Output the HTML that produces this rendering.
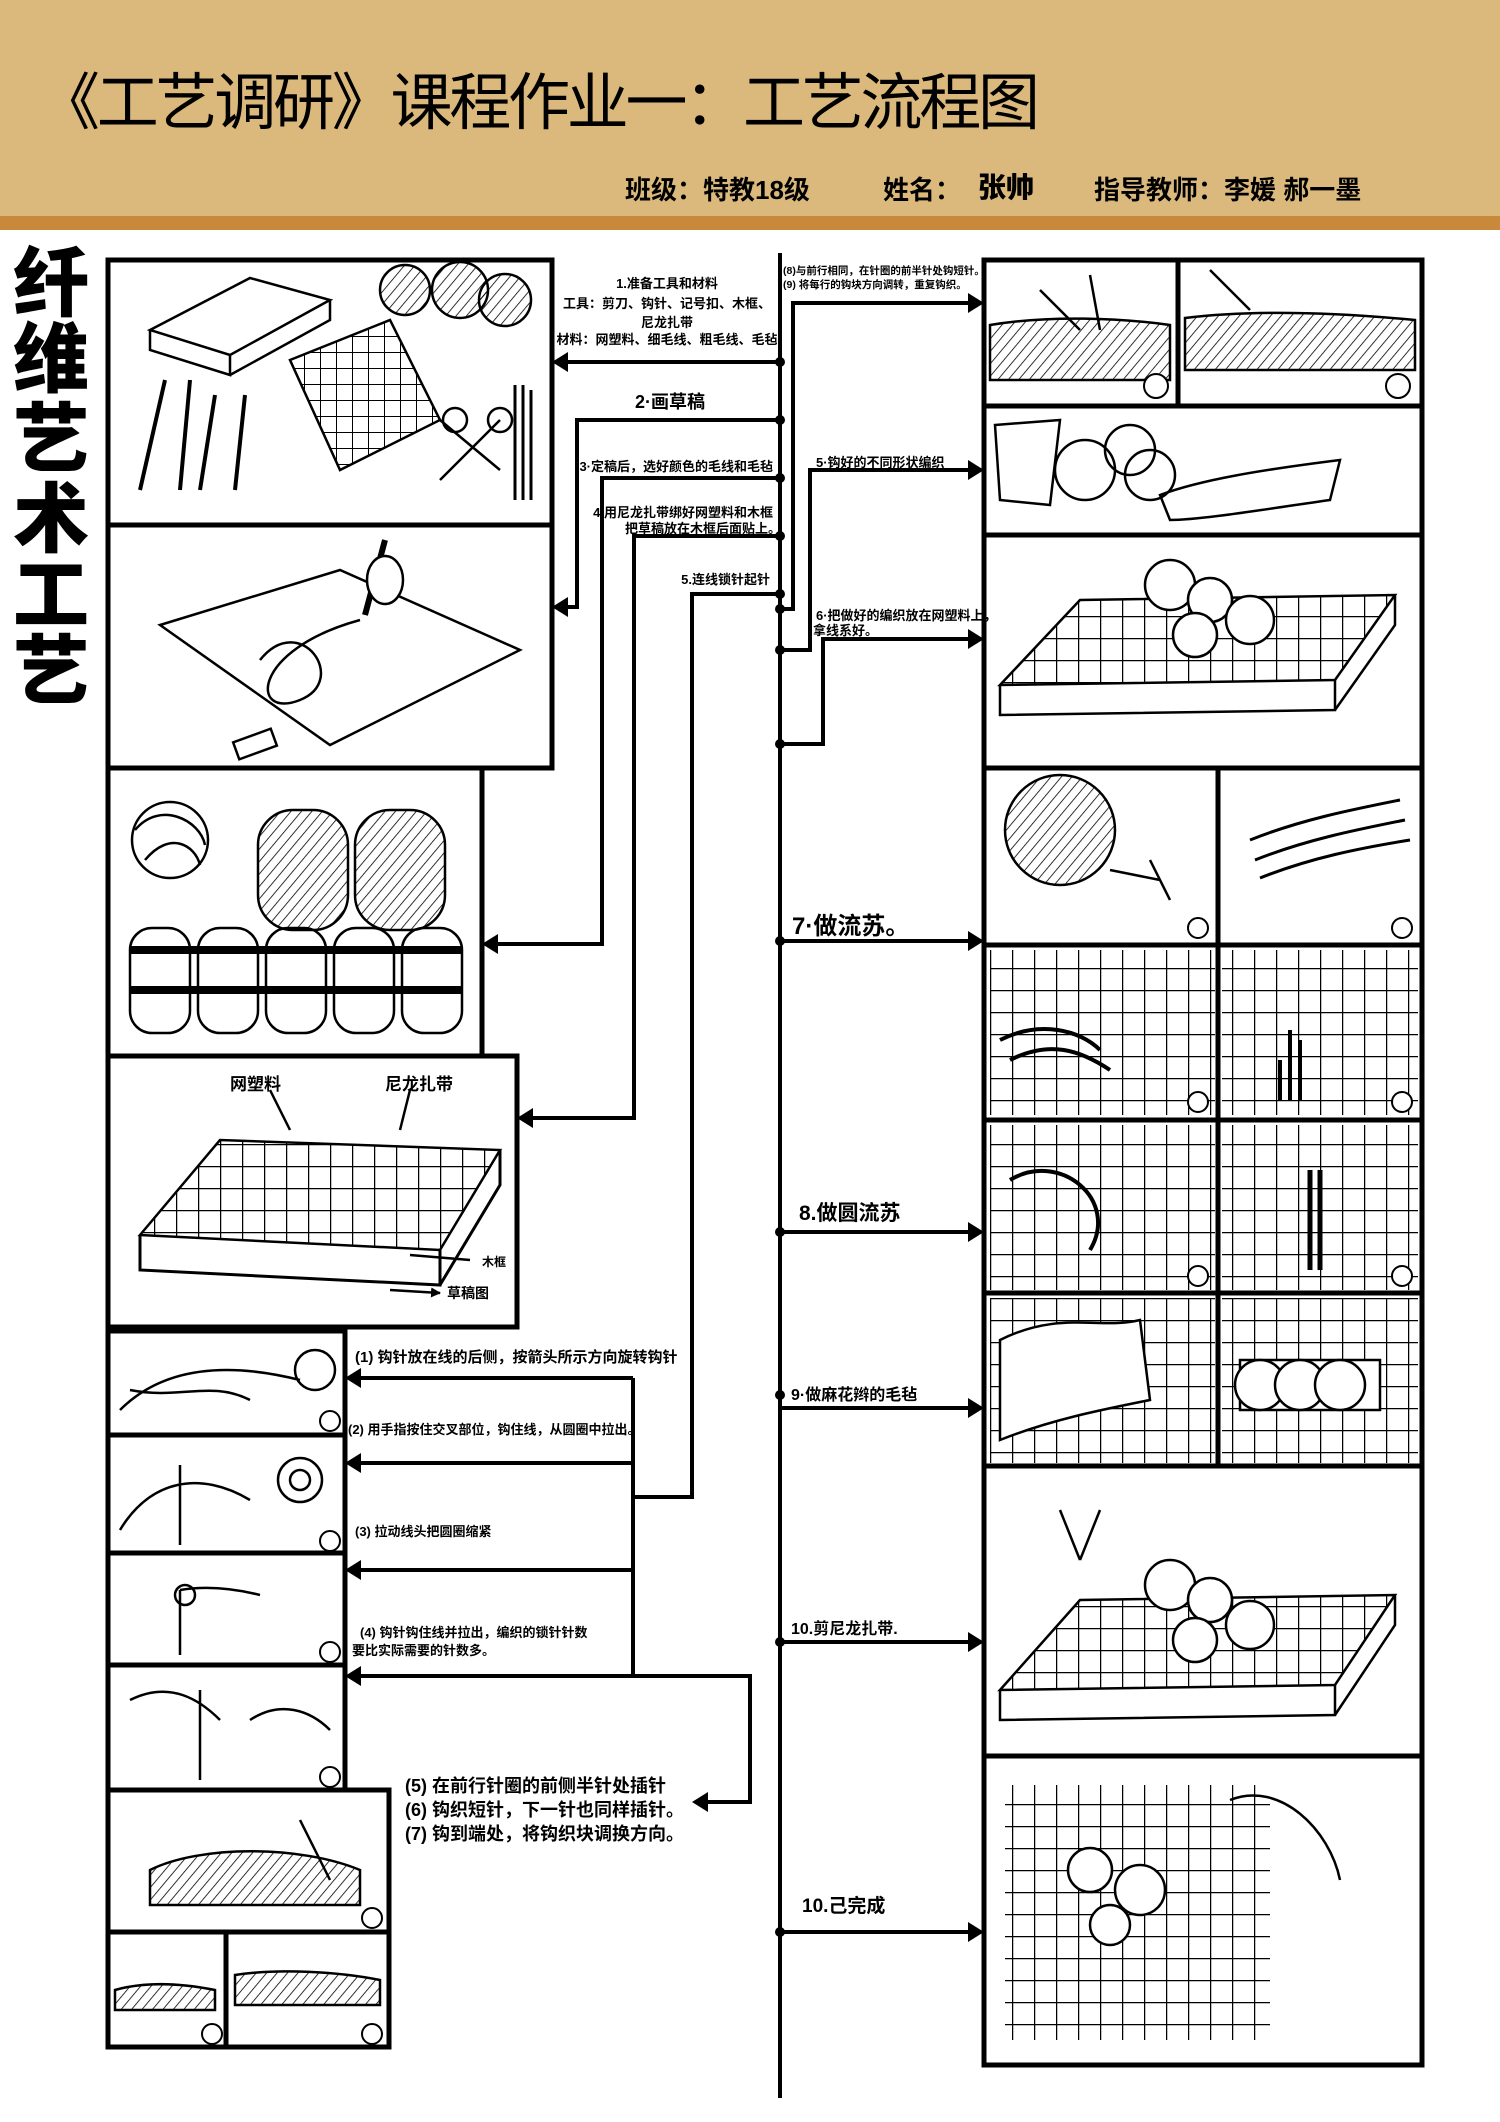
<!DOCTYPE html>
<html><head><meta charset="utf-8"><style>
html,body{margin:0;padding:0;background:#fff}
svg{display:block}
text{font-family:"Liberation Sans","Noto Sans CJK SC",sans-serif;fill:#000}
</style></head><body>
<svg width="1500" height="2122" viewBox="0 0 1500 2122" xmlns="http://www.w3.org/2000/svg">
<defs>
<pattern id="g" width="22" height="22" patternUnits="userSpaceOnUse"><path d="M0 0H22M0 0V22" stroke="#000" stroke-width="2.5" fill="none"/></pattern>
<pattern id="gs" width="16" height="16" patternUnits="userSpaceOnUse"><path d="M0 0H16M0 0V16" stroke="#000" stroke-width="2" fill="none"/></pattern>
<pattern id="st" width="8" height="8" patternUnits="userSpaceOnUse" patternTransform="rotate(40)"><path d="M0 0V8" stroke="#000" stroke-width="1.6"/></pattern>
<marker id="a" viewBox="0 0 10 10" refX="9" refY="5" markerWidth="4" markerHeight="4" orient="auto"><path d="M0 0L10 5L0 10z" fill="#000"/></marker>
</defs>
<!-- header -->
<rect x="0" y="0" width="1500" height="216" fill="#dbb97c"/>
<rect x="0" y="216" width="1500" height="14" fill="#c8893b"/>
<text x="38" y="124" font-size="62" font-weight="normal" textLength="1002" lengthAdjust="spacing" font-family="'Noto Serif CJK SC','Noto Sans CJK SC',serif">《工艺调研》课程作业一：工艺流程图</text>
<text x="625" y="199" font-size="26" font-weight="bold">班级：特教18级</text>
<text x="883" y="199" font-size="26" font-weight="bold">姓名：</text>
<text x="978" y="197" font-size="28" font-weight="900">张帅</text>
<text x="1094" y="199" font-size="26" font-weight="bold">指导教师：李媛 郝一墨</text>
<!-- side title -->
<g font-size="76" font-weight="900" text-anchor="middle">
<text x="51" y="310">纤</text><text x="51" y="386">维</text><text x="51" y="466">艺</text><text x="51" y="546">术</text><text x="51" y="622">工</text><text x="51" y="698">艺</text>
</g>
<!-- boxes -->
<g fill="none" stroke="#000" stroke-width="5">
<rect x="108" y="260" width="444" height="265"/>
<rect x="108" y="525" width="444" height="243"/>
<rect x="108" y="768" width="374" height="288"/>
<rect x="108" y="1056" width="409" height="271"/>
<rect x="108" y="1331" width="237" height="104"/>
<rect x="108" y="1435" width="237" height="118"/>
<rect x="108" y="1553" width="237" height="112"/>
<rect x="108" y="1665" width="237" height="125"/>
<rect x="108" y="1790" width="281" height="142"/>
<rect x="108" y="1932" width="118" height="115"/>
<rect x="226" y="1932" width="163" height="115"/>
<rect x="984" y="260" width="438" height="146"/><line x1="1178" y1="260" x2="1178" y2="406"/>
<rect x="984" y="406" width="438" height="129"/>
<rect x="984" y="535" width="438" height="233"/>
<rect x="984" y="768" width="438" height="177"/><line x1="1218" y1="768" x2="1218" y2="945"/>
<rect x="984" y="945" width="438" height="175"/><line x1="1218" y1="945" x2="1218" y2="1120"/>
<rect x="984" y="1120" width="438" height="173"/><line x1="1218" y1="1120" x2="1218" y2="1293"/>
<rect x="984" y="1293" width="438" height="173"/><line x1="1218" y1="1293" x2="1218" y2="1466"/>
<rect x="984" y="1466" width="438" height="290"/>
<rect x="984" y="1756" width="438" height="309"/>
</g>
<!-- illustrations -->
<g fill="none" stroke="#000" stroke-width="2.5">
<path d="M150 330L250 278L330 300L230 355zM150 330V350L230 375V355M330 300V320L230 375"/>
<path d="M290 360L390 320L440 420L340 470z" fill="url(#gs)"/>
<circle cx="405" cy="290" r="25" fill="url(#st)"/><circle cx="460" cy="290" r="28" fill="url(#st)"/><circle cx="505" cy="300" r="26" fill="url(#st)"/>
<path d="M165 380L140 490M190 380L180 490M215 395L200 490M245 395L235 490" stroke-width="4"/>
<path d="M440 420L500 470M500 420L440 480"/><circle cx="455" cy="420" r="12"/><circle cx="500" cy="420" r="12"/>
<path d="M515 385V500M523 385V500M531 390V500" stroke-width="3"/>
<path d="M160 625L340 570L520 650L330 745z"/>
<path d="M260 660C300 610 350 680 300 700S250 650 360 620" />
<path d="M385 540L365 615" stroke-width="6"/><ellipse cx="385" cy="580" rx="18" ry="24" fill="#fff"/>
<rect x="235" y="735" width="40" height="18" transform="rotate(-20 255 744)"/>
<circle cx="170" cy="840" r="38"/><path d="M135 830C160 800 200 820 205 845M145 860C170 830 195 845 200 865"/>
<rect x="258" y="810" width="90" height="120" rx="35" fill="url(#st)"/>
<rect x="355" y="810" width="90" height="120" rx="35" fill="url(#st)"/>
<g>
<rect x="130" y="928" width="60" height="105" rx="22"/><rect x="198" y="928" width="60" height="105" rx="22"/><rect x="266" y="928" width="60" height="105" rx="22"/><rect x="334" y="928" width="60" height="105" rx="22"/><rect x="402" y="928" width="60" height="105" rx="22"/>
<path d="M130 950H462M130 990H462" stroke-width="8"/>
</g>
<path d="M140 1235L220 1140L500 1150L440 1250z" fill="url(#g)"/>
<path d="M140 1235V1270L440 1285V1250M440 1285L500 1185V1150" stroke-width="3"/>
<path d="M270 1090L290 1130M410 1090L400 1130M410 1255L470 1260M390 1290L440 1293" stroke-width="2.5" marker-end="url(#a)"/>
<path d="M120 1410C160 1370 220 1360 300 1380M130 1390C180 1400 210 1380 250 1400"/><circle cx="315" cy="1370" r="20"/>
<path d="M120 1530C150 1480 200 1470 250 1500M180 1465V1545"/><circle cx="300" cy="1480" r="22"/><circle cx="300" cy="1480" r="10"/>
<path d="M180 1590C210 1585 240 1590 260 1595M180 1590V1655"/><circle cx="185" cy="1595" r="10"/>
<path d="M130 1700C170 1680 200 1700 220 1720M200 1690V1780M250 1720C280 1700 310 1710 330 1730"/>
<path d="M150 1870C200 1845 300 1845 360 1870V1905H150z" fill="url(#st)"/><path d="M300 1820L330 1880"/>
<path d="M115 1990C150 1980 190 1985 215 1990V2010H115z" fill="url(#st)"/>
<path d="M235 1975C280 1968 340 1972 380 1980V2005H235z" fill="url(#st)"/>
<path d="M990 325C1050 315 1120 318 1170 325V380H990z" fill="url(#st)"/><path d="M1040 290L1080 330M1090 275L1100 330"/>
<path d="M1185 318C1250 310 1330 312 1415 320V370H1185z" fill="url(#st)"/><path d="M1210 270L1250 310"/>
<path d="M995 425L1060 420L1050 505L1000 500z"/><circle cx="1085" cy="470" r="30"/><circle cx="1130" cy="450" r="25"/><circle cx="1150" cy="475" r="25"/>
<path d="M1160 495C1200 480 1260 470 1340 460L1330 500C1260 510 1200 520 1170 520z"/>
<path d="M1000 685L1080 600L1395 595L1335 680z" fill="url(#g)"/>
<path d="M1000 685V715L1335 710V680M1335 710L1395 625V595"/>
<circle cx="1170" cy="585" r="25" fill="#fff"/><circle cx="1210" cy="600" r="22" fill="#fff"/><circle cx="1250" cy="620" r="24" fill="#fff"/><circle cx="1195" cy="635" r="22" fill="#fff"/>
<circle cx="1060" cy="830" r="55" fill="url(#st)"/><path d="M1110 870L1160 880M1150 860L1170 900"/>
<path d="M1250 840C1300 820 1350 810 1400 800M1255 860C1305 840 1355 830 1405 820M1260 878C1310 858 1360 848 1410 840" stroke-width="3"/>
<rect x="990" y="950" width="225" height="165" fill="url(#g)" stroke="none"/>
<rect x="1222" y="950" width="196" height="165" fill="url(#g)" stroke="none"/>
<rect x="990" y="1125" width="225" height="165" fill="url(#g)" stroke="none"/>
<rect x="1222" y="1125" width="196" height="165" fill="url(#g)" stroke="none"/>
<rect x="990" y="1298" width="225" height="165" fill="url(#g)" stroke="none"/>
<rect x="1222" y="1298" width="196" height="165" fill="url(#g)" stroke="none"/>
<path d="M1000 1040C1040 1020 1080 1030 1100 1050M1010 1060C1050 1040 1080 1050 1110 1070" stroke-width="4"/>
<path d="M1280 1060V1100M1290 1030V1100M1300 1040V1100" stroke-width="4"/>
<path d="M1010 1180C1060 1150 1120 1200 1090 1250" stroke-width="4"/><path d="M1310 1170V1270M1320 1170V1270" stroke-width="5"/>
<path d="M1000 1340C1060 1310 1100 1330 1140 1320L1150 1400C1100 1410 1050 1420 1000 1440z" fill="#fff"/>
<path d="M1240 1360H1380V1410H1240z" fill="#fff"/><circle cx="1260" cy="1385" r="25" fill="#fff"/><circle cx="1300" cy="1385" r="25" fill="#fff"/><circle cx="1340" cy="1385" r="25" fill="#fff"/>
<path d="M1000 1690L1080 1600L1395 1595L1335 1685z" fill="url(#g)"/>
<path d="M1000 1690V1720L1335 1715V1685M1335 1715L1395 1625V1595"/>
<circle cx="1170" cy="1585" r="25" fill="#fff"/><circle cx="1210" cy="1600" r="22" fill="#fff"/><circle cx="1250" cy="1625" r="24" fill="#fff"/><circle cx="1195" cy="1640" r="22" fill="#fff"/>
<path d="M1060 1510L1080 1560M1100 1510L1080 1560"/>
<rect x="1005" y="1785" width="265" height="255" fill="url(#g)" stroke="none"/>
<circle cx="1090" cy="1870" r="22" fill="#fff"/><circle cx="1140" cy="1890" r="25" fill="#fff"/><circle cx="1110" cy="1925" r="20" fill="#fff"/>
<path d="M1230 1800C1280 1780 1330 1830 1340 1880"/>
</g>
<g fill="#fff" stroke="#000" stroke-width="2">
<circle cx="330" cy="1421" r="10"/><circle cx="330" cy="1541" r="10"/><circle cx="330" cy="1652" r="10"/><circle cx="330" cy="1777" r="10"/><circle cx="372" cy="1918" r="10"/><circle cx="212" cy="2034" r="10"/><circle cx="372" cy="2034" r="10"/>
<circle cx="1156" cy="386" r="12"/><circle cx="1398" cy="386" r="12"/><circle cx="1198" cy="928" r="10"/><circle cx="1402" cy="928" r="10"/><circle cx="1198" cy="1102" r="10"/><circle cx="1402" cy="1102" r="10"/><circle cx="1198" cy="1276" r="10"/><circle cx="1402" cy="1276" r="10"/>
</g>
<g fill="none" stroke="#000" stroke-width="4">
<line x1="780" y1="253" x2="780" y2="2098"/>
<path d="M780 362H560"/>
<path d="M780 420H577V607H560"/>
<path d="M780 478H602V944H490"/>
<path d="M780 536H634V1118H525"/>
<path d="M780 594H692V1497H633"/>
<path d="M633 1378V1676"/>
<path d="M633 1378H353M633 1463H353M633 1570H353M633 1676H353"/>
<path d="M633 1676H750V1802H700"/>
<path d="M780 609H793V303H975"/>
<path d="M780 650H810V470H975"/>
<path d="M780 744H823V639H975"/>
<path d="M780 941H975M780 1232H975M780 1408H975M780 1642H975M780 1932H975"/>
</g>
<g fill="#000">
<path d="M552 362l16-10v20z"/><path d="M552 607l16-10v20z"/><path d="M482 944l16-10v20z"/><path d="M517 1118l16-10v20z"/>
<path d="M345 1378l16-10v20z"/><path d="M345 1463l16-10v20z"/><path d="M345 1570l16-10v20z"/><path d="M345 1676l16-10v20z"/><path d="M692 1802l16-10v20z"/>
<path d="M984 303l-16-10v20z"/><path d="M984 470l-16-10v20z"/><path d="M984 639l-16-10v20z"/>
<path d="M984 941l-16-10v20z"/><path d="M984 1232l-16-10v20z"/><path d="M984 1408l-16-10v20z"/><path d="M984 1642l-16-10v20z"/><path d="M984 1932l-16-10v20z"/>
<circle cx="780" cy="362" r="5"/><circle cx="780" cy="420" r="5"/><circle cx="780" cy="478" r="5"/><circle cx="780" cy="536" r="5"/><circle cx="780" cy="594" r="5"/><circle cx="780" cy="609" r="5"/><circle cx="780" cy="650" r="5"/><circle cx="780" cy="744" r="5"/>
<circle cx="780" cy="941" r="5"/><circle cx="780" cy="1232" r="5"/><circle cx="780" cy="1395" r="5"/><circle cx="780" cy="1642" r="5"/><circle cx="780" cy="1932" r="5"/>
</g>
<g font-size="13" font-weight="bold">
<text x="667" y="288" text-anchor="middle">1.准备工具和材料</text>
<text x="667" y="308" text-anchor="middle">工具：剪刀、钩针、记号扣、木框、</text>
<text x="667" y="327" text-anchor="middle">尼龙扎带</text>
<text x="667" y="344" text-anchor="middle">材料：网塑料、细毛线、粗毛线、毛毡</text>
<text x="773" y="471" text-anchor="end">3·定稿后，选好颜色的毛线和毛毡</text>
<text x="773" y="517" text-anchor="end">4.用尼龙扎带绑好网塑料和木框</text>
<text x="625" y="533">把草稿放在木框后面贴上。</text>
<text x="770" y="584" text-anchor="end">5.连线锁针起针</text>
<text x="816" y="467">5·钩好的不同形状编织</text>
<text x="816" y="620">6·把做好的编织放在网塑料上，</text>
<text x="813" y="635">拿线系好。</text>
</g>
<g font-size="10.5" font-weight="bold">
<text x="783" y="274">(8)与前行相同，在针圈的前半针处钩短针。</text>
<text x="783" y="288">(9) 将每行的钩块方向调转，重复钩织。</text>
</g>
<text x="670" y="408" font-size="18" font-weight="bold" text-anchor="middle">2·画草稿</text>
<text x="355" y="1362" font-size="15" font-weight="bold">(1) 钩针放在线的后侧，按箭头所示方向旋转钩针</text>
<g font-size="13" font-weight="bold">
<text x="348" y="1434">(2) 用手指按住交叉部位，钩住线，从圆圈中拉出。</text>
<text x="355" y="1536">(3) 拉动线头把圆圈缩紧</text>
<text x="360" y="1637">(4) 钩针钩住线并拉出，编织的锁针针数</text>
<text x="352" y="1655">要比实际需要的针数多。</text>
</g>
<g font-size="18" font-weight="bold">
<text x="405" y="1792">(5) 在前行针圈的前侧半针处插针</text>
<text x="405" y="1816">(6) 钩织短针，下一针也同样插针。</text>
<text x="405" y="1840">(7) 钩到端处，将钩织块调换方向。</text>
</g>
<g font-size="17" font-weight="bold">
<text x="230" y="1090">网塑料</text>
<text x="385" y="1090">尼龙扎带</text>
<text x="482" y="1266" font-size="12">木框</text>
<text x="447" y="1298" font-size="14">草稿图</text>
</g>
<text x="792" y="934" font-size="24" font-weight="bold">7·做流苏。</text>
<text x="799" y="1220" font-size="21" font-weight="bold">8.做圆流苏</text>
<text x="791" y="1400" font-size="16" font-weight="bold">9·做麻花辫的毛毡</text>
<text x="791" y="1634" font-size="16" font-weight="bold">10.剪尼龙扎带.</text>
<text x="802" y="1912" font-size="19" font-weight="bold">10.己完成</text>
</svg>
</body></html>
